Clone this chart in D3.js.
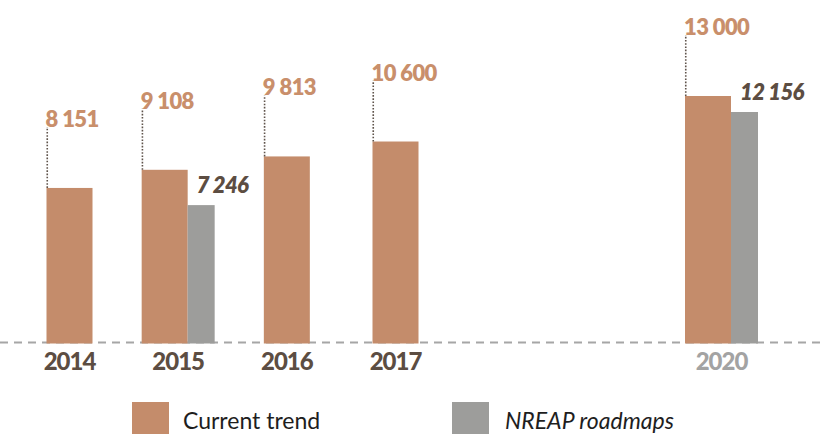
<!DOCTYPE html>
<html>
<head>
<meta charset="utf-8">
<script src="https://cdn.jsdelivr.net/npm/d3@7"></script>
<style>
    body { margin: 0; background: #fff; }
    svg { display: block; font-family: Lato, "Open Sans", sans-serif; }
</style>
</head>
<body>
<svg id="chart"></svg>
<script>
// chart data
const years = [2014, 2015, 2016, 2017, 2020];
const currentTrend = [8151, 9108, 9813, 10600, 13000];
const nreapRoadmaps = [null, 7246, null, null, 12156];
const seriesNames = ['Current trend', 'NREAP roadmaps'];
const mutedYears = [2020];

const width = 820, height = 434;
const baseline = 342.5;

const colors = { trend: '#c48c6b', nreap: '#9d9d9b', trendText: '#c98f6b', dark: '#5c4d42' };

const svg = d3.select('#chart')
    .attr('width', width)
    .attr('height', height);

// x position of each year's group centre
const xScale = d3.scaleLinear()
    .domain([2014, 2020])
    .range([69.5, 721.5]);

const yScale = d3.scaleLinear()
    .domain([0, 13000])
    .range([baseline, 96]);

const trendW = 46, nreapW = 27;
const fmt = v => d3.format(',')(v).replace(/,/g, ' ');

const rows = years.map((y, i) => ({ year: y, trend: currentTrend[i], nreap: nreapRoadmaps[i] }));
const groupLeft = d => xScale(d.year) - (d.nreap != null ? trendW + nreapW : trendW) / 2;

// dashed base line
svg.append('line')
    .attr('x1', 0).attr('x2', width)
    .attr('y1', baseline).attr('y2', baseline)
    .attr('stroke', '#a6a6a6')
    .attr('stroke-width', 2)
    .attr('stroke-dasharray', '8,6');

const g = svg.selectAll('g.year')
    .data(rows)
    .join('g')
    .attr('class', 'year');

// current trend bars
g.append('rect')
    .attr('x', d => groupLeft(d))
    .attr('y', d => yScale(d.trend))
    .attr('width', trendW)
    .attr('height', d => baseline + 1 - yScale(d.trend))
    .attr('fill', colors.trend);

// NREAP bars
g.filter(d => d.nreap != null).append('rect')
    .attr('x', d => groupLeft(d) + trendW)
    .attr('y', d => yScale(d.nreap))
    .attr('width', nreapW)
    .attr('height', d => baseline + 1 - yScale(d.nreap))
    .attr('fill', colors.nreap);

// dotted leader lines
g.append('line')
    .attr('x1', d => groupLeft(d) + 0.75)
    .attr('x2', d => groupLeft(d) + 0.75)
    .attr('y1', d => yScale(d.trend))
    .attr('y2', d => yScale(d.trend) - 61)
    .attr('stroke', '#5f534b')
    .attr('stroke-width', 1.6)
    .attr('stroke-dasharray', '1.6,1.6');

// value labels
g.append('text')
    .attr('x', d => groupLeft(d) - 1)
    .attr('y', d => yScale(d.trend) - 61)
    .attr('fill', colors.trendText)
    .style('font-size', '22px')
    .style('font-weight', 800)
    .style('letter-spacing', '-0.6px')
    .text(d => fmt(d.trend));

g.filter(d => d.nreap != null).append('text')
    .attr('x', d => groupLeft(d) + trendW + 9)
    .attr('y', d => yScale(d.nreap) - 12)
    .attr('fill', colors.dark)
    .style('font-size', '22px')
    .style('font-weight', 800)
    .style('font-style', 'italic')
    .style('letter-spacing', '-0.6px')
    .text(d => fmt(d.nreap));

// year labels
g.append('text')
    .attr('x', d => xScale(d.year))
    .attr('y', 370)
    .attr('text-anchor', 'middle')
    .attr('fill', d => mutedYears.includes(d.year) ? '#a3a3a3' : colors.dark)
    .style('font-size', '24px')
    .style('font-weight', 900)
    .style('letter-spacing', '-1px')
    .text(d => d.year);

// legend
const legend = svg.append('g');
const legendX = [132, 452];
const legendItems = legend.selectAll('g')
    .data(seriesNames)
    .join('g')
    .attr('transform', (d, i) => `translate(${legendX[i]},402)`);

legendItems.append('rect')
    .attr('width', 37)
    .attr('height', 32)
    .attr('fill', (d, i) => i === 0 ? colors.trend : colors.nreap);

legendItems.append('text')
    .attr('x', (d, i) => i === 0 ? 51 : 53)
    .attr('y', 27)
    .attr('fill', '#1e1e1e')
    .style('font-size', '23px')
    .style('font-style', (d, i) => i === 0 ? 'normal' : 'italic')
    .text(d => d);
</script>
</body>
</html>
